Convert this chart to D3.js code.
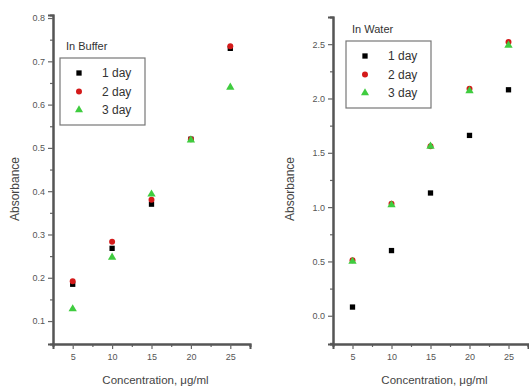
<!DOCTYPE html>
<html>
<head>
<meta charset="utf-8">
<script src="https://cdn.jsdelivr.net/npm/d3@7"></script>
<style>
  body { margin: 0; background: #fff; }
  text { font-family: "Liberation Sans", Arial, sans-serif; }
</style>
</head>
<body>
<script>
// data
var conc = [5, 10, 15, 20, 25];
var seriesNames = ['1 day', '2 day', '3 day'];
var bufferDay1 = [0.185, 0.268, 0.370, 0.520, 0.730];
var bufferDay2 = [0.192, 0.283, 0.380, 0.520, 0.735];
var bufferDay3 = [0.128, 0.247, 0.393, 0.518, 0.640];
var waterDay1 = [0.08, 0.60, 1.13, 1.66, 2.08];
var waterDay2 = [0.51, 1.03, 1.56, 2.09, 2.52];
var waterDay3 = [0.50, 1.02, 1.56, 2.07, 2.49];
var xTicks = [5, 10, 15, 20, 25];
var bufferTicks = [0.1, 0.2, 0.3, 0.4, 0.5, 0.6, 0.7, 0.8];
var waterTicks = [0.0, 0.5, 1.0, 1.5, 2.0, 2.5];

var colors = ['#000000', '#d41a1a', '#3fcc3f'];
var shapes = [d3.symbolSquare, d3.symbolCircle, d3.symbolTriangle];

var svg = d3.select('body').append('svg')
  .attr('width', 529)
  .attr('height', 388);

//one panel
function panel(opt) {
  var x = d3.scaleLinear().domain([2.5, 27.5]).range([opt.left, opt.right]);
  var y = d3.scaleLinear().domain(opt.yDomain).range([opt.bottom, opt.top]);
  var g = svg.append('g');

  // minor ticks
  g.append('g').attr('transform', 'translate(' + opt.left + ',0)')
    .call(d3.axisLeft(y).tickValues(opt.yMinor).tickSize(3).tickFormat(''));
  g.append('g').attr('transform', 'translate(0,' + opt.bottom + ')')
    .call(d3.axisBottom(x).tickValues([7.5, 12.5, 17.5, 22.5]).tickSize(3).tickFormat(''));

  g.append('g').attr('transform', 'translate(' + opt.left + ',0)')
    .call(d3.axisLeft(y).tickValues(opt.yTicks).tickSize(5).tickPadding(3).tickFormat(d3.format(opt.fmt)));
  g.append('g').attr('transform', 'translate(0,' + opt.bottom + ')')
    .call(d3.axisBottom(x).tickValues(xTicks).tickSize(5).tickPadding(5).tickFormat(d3.format('d')));

  g.selectAll('.domain').attr('stroke', '#555').attr('stroke-width', 2);
  g.selectAll('.tick line').attr('stroke', '#666').attr('stroke-width', 1.2);
  g.selectAll('.tick text').attr('fill', '#555').style('font-size', '9px');

  // axis titles
  g.append('text')
    .attr('transform', 'translate(' + opt.yLabelX + ',189) rotate(-90)')
    .attr('text-anchor', 'middle')
    .attr('fill', '#444')
    .style('font-size', '12px')
    .text('Absorbance');
  g.append('text')
    .attr('x', (opt.left + opt.right) / 2 + 4)
    .attr('y', 384)
    .attr('text-anchor', 'middle')
    .attr('fill', '#444')
    .style('font-size', '11.5px')
    .text('Concentration, \u03bcg/ml');

  // points
  opt.series.forEach(function(vals, i) {
    g.selectAll('.p' + i)
      .data(vals)
      .enter().append('path')
      .attr('class', 'p' + i)
      .attr('transform', function(d, j) { return 'translate(' + x(conc[j]) + ',' + y(d) + ')'; })
      .attr('d', d3.symbol().type(shapes[i]).size(i == 2 ? 30 : 28))
      .attr('fill', colors[i]);
  });

  // legend
  var lg = g.append('g');
  lg.append('text')
    .attr('x', opt.legend.x + 6).attr('y', opt.legend.y - 8)
    .attr('fill', '#333').style('font-size', '11px')
    .text(opt.title);
  lg.append('rect')
    .attr('x', opt.legend.x).attr('y', opt.legend.y)
    .attr('width', 85).attr('height', 67)
    .attr('fill', '#fff').attr('stroke', '#777').attr('stroke-width', 1.2);
  seriesNames.forEach(function(name, i) {
    var ry = opt.legend.y + 15 + i * 18.5;
    lg.append('path')
      .attr('transform', 'translate(' + (opt.legend.x + 19) + ',' + ry + ')')
      .attr('d', d3.symbol().type(shapes[i]).size(28))
      .attr('fill', colors[i]);
    lg.append('text')
      .attr('x', opt.legend.x + 42).attr('y', ry + 4)
      .attr('fill', '#333').style('font-size', '12px')
      .text(name);
  });
}

panel({
  left: 53, right: 250, top: 15, bottom: 344,
  yDomain: [0.047, 0.807],
  yTicks: bufferTicks,
  yMinor: [0.15, 0.25, 0.35, 0.45, 0.55, 0.65, 0.75],
  fmt: '.1f',
  yLabelX: 19,
  series: [bufferDay1, bufferDay2, bufferDay3],
  title: 'In Buffer',
  legend: {x: 60, y: 58}
});

panel({
  left: 333, right: 528, top: 17, bottom: 344,
  yDomain: [-0.26, 2.75],
  yTicks: waterTicks,
  yMinor: [-0.25, 0.25, 0.75, 1.25, 1.75, 2.25, 2.75],
  fmt: '.1f',
  yLabelX: 294,
  series: [waterDay1, waterDay2, waterDay3],
  title: 'In Water',
  legend: {x: 346, y: 41}
});
</script>
</body>
</html>
